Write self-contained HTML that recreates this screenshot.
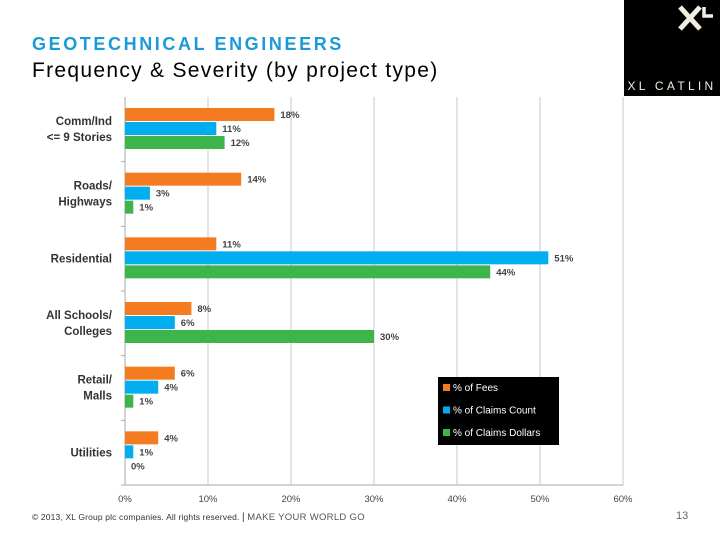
<!DOCTYPE html>
<html><head><meta charset="utf-8"><style>
body{margin:0;width:720px;height:540px;background:#fff;overflow:hidden;font-family:"Liberation Sans",sans-serif;position:relative}
.abs{position:absolute}
</style></head><body>
<div class="abs" style="left:32px;top:34px;font-size:18px;font-weight:bold;color:#1a9ad6;letter-spacing:2.6px;white-space:nowrap">GEOTECHNICAL ENGINEERS</div>
<div class="abs" style="left:32px;top:59px;font-size:21px;color:#000;letter-spacing:1.3px;white-space:nowrap">Frequency &amp; Severity (by project type)</div>
<div class="abs" style="left:624px;top:0;width:96px;height:96px;background:#000">
<svg width="96" height="96">
<path d="M56 7 L76 29 M76 7 L56 29" stroke="#f2efe0" stroke-width="5"/>
<path d="M80 7 V16 H89" stroke="#f2efe0" stroke-width="3.5" fill="none"/>
<text x="48" y="90" fill="#f2efe0" font-size="12" text-anchor="middle" letter-spacing="3.3" font-family="Liberation Sans">XL CATLIN</text>
</svg></div>
<svg id="chart" class="abs" style="left:0;top:0" width="720" height="540"></svg>
<div class="abs" style="left:32px;top:512px;font-size:8.5px;color:#333;letter-spacing:0.15px;white-space:nowrap">© 2013, XL Group plc companies. All rights reserved. <span style="font-size:10px">|</span> <span style="color:#555;font-size:9.5px;letter-spacing:0.3px">MAKE YOUR WORLD GO</span></div>
<div class="abs" style="left:676px;top:510px;font-size:11px;color:#666">13</div>
<script>
const categories=[["Comm/Ind","<= 9 Stories"],["Roads/","Highways"],["Residential"],["All Schools/","Colleges"],["Retail/","Malls"],["Utilities"]];
const fees=[18,14,11,8,6,4];
const claimsCount=[11,3,51,6,4,1];
const claimsDollars=[12,1,44,30,1,0];
const ticks=[0,10,20,30,40,50,60];
const seriesNames=["% of Fees","% of Claims Count","% of Claims Dollars"];
const colors=["#f47b20","#00aeef","#3db54a"];
const NS="http://www.w3.org/2000/svg";
const svg=document.getElementById('chart');
const x0=125,x1=623,yTop=97,yBot=485;
const xs=v=>x0+(x1-x0)*v/60;
const band=(yBot-yTop)/categories.length;
function mk(t,a){const e=document.createElementNS(NS,t);for(const k in a)e.setAttribute(k,a[k]);svg.appendChild(e);return e;}
ticks.forEach(t=>{
 if(t>0){const g=mk('line',{x1:xs(t),x2:xs(t),y1:yTop,y2:yBot,stroke:'#c8c8c8'});
 
 }
 const l=mk('text',{x:xs(t),y:yBot+17,'font-size':9.5,'text-anchor':'middle',fill:'#444','font-family':'Liberation Sans'});
 l.textContent=t+'%';
 
 
});
const ax=mk('line',{x1:x0,x2:x0,y1:yTop,y2:yBot,stroke:'#aaa'});


const bx=mk('line',{x1:x0,x2:x1,y1:yBot,y2:yBot,stroke:'#aaa'});


const series=[fees,claimsCount,claimsDollars];
categories.forEach((c,i)=>{
 const by=yTop+band*i;
 const tk=mk('line',{x1:x0-4,x2:x0,y1:by+band,y2:by+band,stroke:'#aaa'});
 
 
 series.forEach((s,j)=>{
  const y=by+11+j*14;
  const r=mk('rect',{x:x0,y:y,width:xs(s[i])-x0,height:13,fill:colors[j]});
  
  
  const t=mk('text',{x:xs(s[i])+6,y:y+10,'font-size':9.5,'font-weight':'bold',fill:'#444','font-family':'Liberation Sans'});
  t.textContent=s[i]+'%';
  
  
 });
 const mid=by+11+21;
 c.forEach((line,k)=>{
  const t=mk('text',{x:112,y:mid+4+(k-(c.length-1)/2)*16,'font-size':11.5,'font-weight':'bold',fill:'#333','text-anchor':'end','font-family':'Liberation Sans'});
  t.textContent=line;
  
  
 });
});
const lg=mk('rect',{x:438,y:377,width:121,height:68,fill:'#000'});


seriesNames.forEach((n,j)=>{
 const y=384+j*22.5;
 const sw=mk('rect',{x:443,y:y,width:7,height:7,fill:colors[j]});
 
 
 const t=mk('text',{x:453,y:y+7,'font-size':10,fill:'#fff','font-family':'Liberation Sans'});
 t.textContent=n;
 
 
});
</script>
</body></html>
